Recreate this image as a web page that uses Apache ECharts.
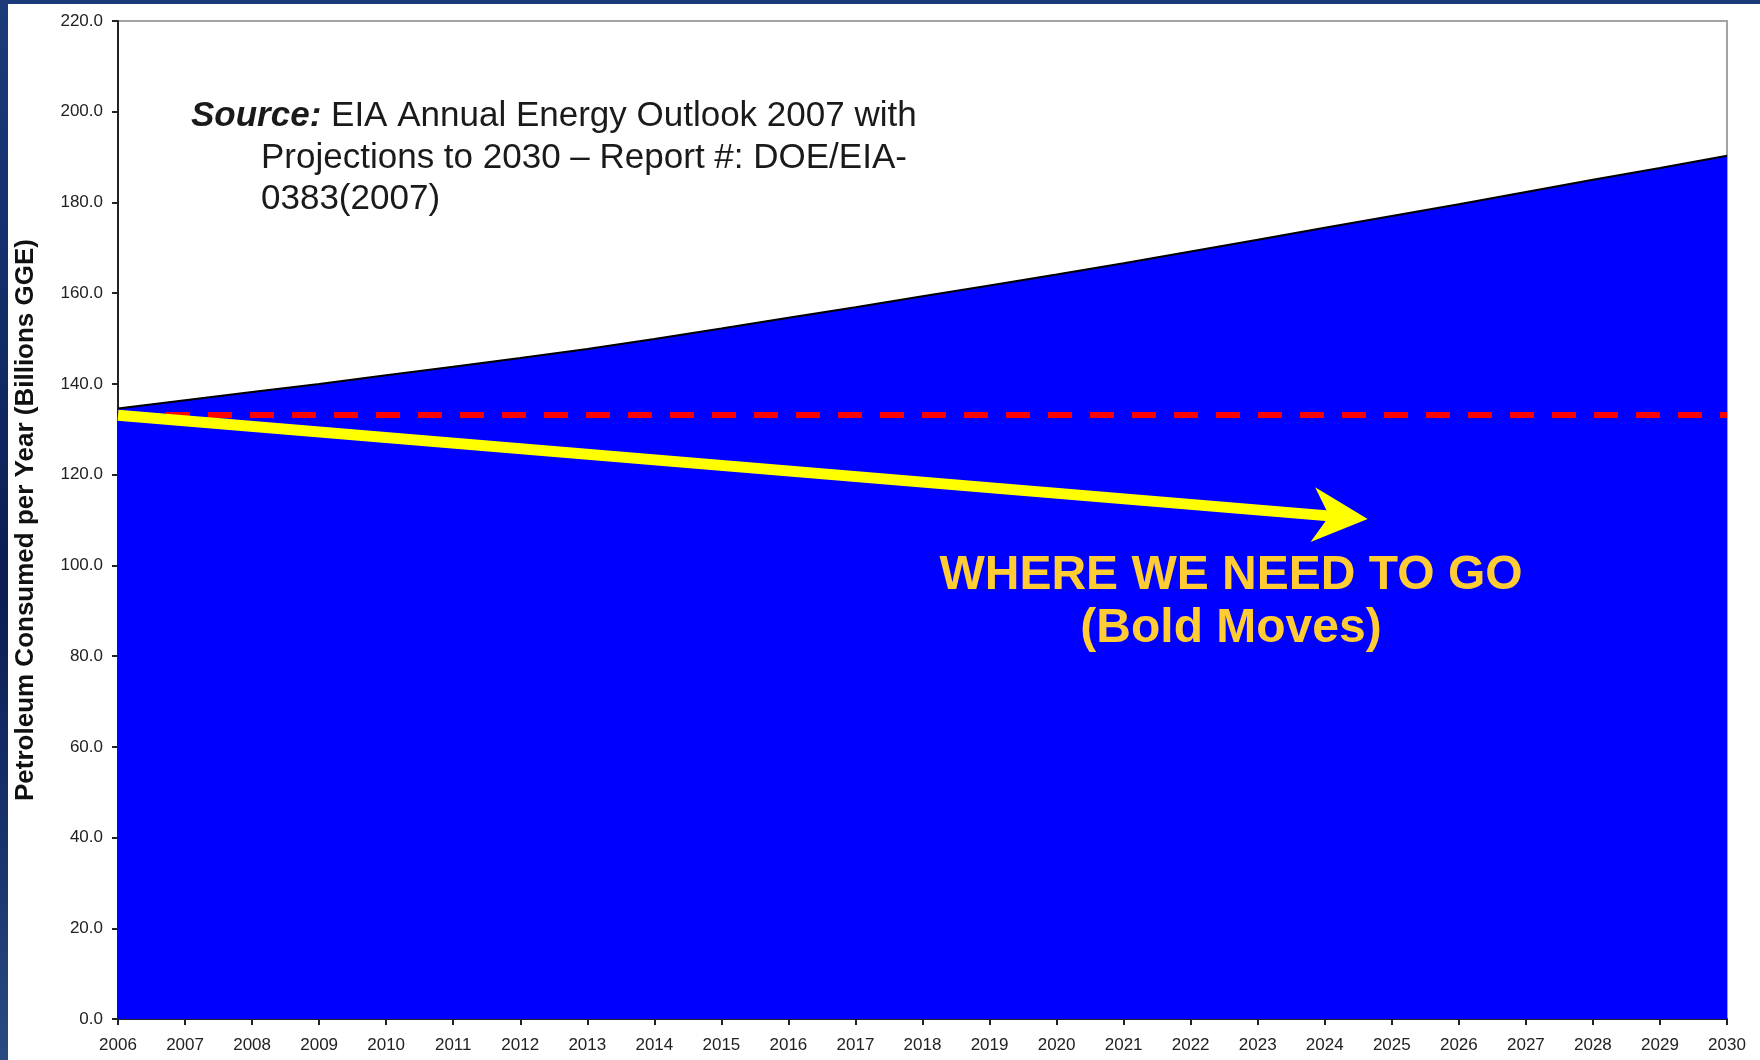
<!DOCTYPE html>
<html>
<head>
<meta charset="utf-8">
<title>Petroleum Consumed per Year</title>
<script src="https://cdn.jsdelivr.net/npm/echarts@6/dist/echarts.min.js"></script>
<style>
  html, body { margin: 0; padding: 0; width: 1760px; height: 1060px; overflow: hidden; }
  body {
    position: relative;
    background: linear-gradient(180deg, #1c3b7b 0%, #122d68 30%, #0b1d52 55%, #18336e 80%, #2a4a82 100%);
  }
  #panel { position: absolute; left: 8px; top: 4px; right: 0; bottom: 0; background: #ffffff; }
  #chart { position: absolute; left: 0; top: 0; width: 1760px; height: 1060px; }
</style>
</head>
<body>
<div id="panel"></div>
<div id="chart"></div>
<script>
// Projected petroleum consumption, billions of gallons of gasoline equivalent
const years = [2006, 2007, 2008, 2009, 2010, 2011, 2012, 2013, 2014, 2015, 2016, 2017,
               2018, 2019, 2020, 2021, 2022, 2023, 2024, 2025, 2026, 2027, 2028, 2029, 2030];
const consumption = [134.6, 136.4, 138.2, 140.0, 141.9, 143.8, 145.7, 147.7, 149.9, 152.2,
                     154.6, 156.9, 159.3, 161.7, 164.1, 166.6, 169.2, 171.8, 174.4, 177.0,
                     179.6, 182.3, 185.0, 187.6, 190.3];

// Value axis range and step
const yRange = { min: 0, max: 220, step: 20 };
const xRange = { min: 2006, max: 2030, step: 1 };

// Flat reference level (today's consumption) and the target path arrow
const flatLevel = 133.1;
const targetStart = [2006, 133.1];
const targetEnd = [2024.64, 110.2];

// Annotation texts
const sourceLines = [
  '{b|Source:} EIA Annual Energy Outlook 2007 with',
  'Projections to 2030 \u2013 Report #: DOE/EIA-',
  '0383(2007)'
];
const goalLines = ['WHERE WE NEED TO GO', '(Bold Moves)'];

const FONT = '"Liberation Sans", Arial, Helvetica, sans-serif';
const chart = echarts.init(document.getElementById('chart'), null, { renderer: 'canvas' });

const axisCommon = {
  axisLine: { show: true, lineStyle: { color: '#222222', width: 2 } },
  axisTick: { show: true, inside: false, length: 6, lineStyle: { color: '#222222', width: 2 } },
  splitLine: { show: false }
};

const option = {
  animation: false,
  backgroundColor: 'transparent',
  textStyle: { fontFamily: FONT },
  grid: {
    left: 118, right: 33, top: 21, bottom: 41,
    show: true, backgroundColor: '#ffffff', borderColor: '#a3a3a3', borderWidth: 2,
    outerBoundsMode: 'none'
  },
  xAxis: Object.assign({
    type: 'value',
    min: xRange.min, max: xRange.max, interval: xRange.step,
    axisLabel: { formatter: v => String(v), fontSize: 17, color: '#222222', margin: 18, fontFamily: FONT }
  }, axisCommon),
  yAxis: Object.assign({
    type: 'value',
    min: yRange.min, max: yRange.max, interval: yRange.step,
    name: 'Petroleum Consumed per Year (Billions GGE)',
    nameLocation: 'middle',
    nameGap: 79,
    nameTextStyle: { fontSize: 26, fontWeight: 'bold', color: '#111111', fontFamily: FONT },
    axisLabel: { formatter: v => v.toFixed(1), fontSize: 17, color: '#222222', margin: 15, fontFamily: FONT }
  }, axisCommon),
  series: [{
    type: 'line',
    data: years.map((y, i) => [y, consumption[i]]),
    symbol: 'none',
    showSymbol: false,
    lineStyle: { color: '#000000', width: 2 },
    areaStyle: { color: '#0000FF', opacity: 1 },
    emphasis: { disabled: true },
    z: 2,
    markLine: {
      silent: true,
      animation: false,
      symbol: ['none', 'none'],
      label: { show: false },
      emphasis: { disabled: true },
      data: [
        {
          yAxis: flatLevel,
          lineStyle: { color: '#FF0000', width: 6, type: [24, 18], dashOffset: -6 }
        }
      ]
    }
  }],
  graphic: [
    {
      id: 'src1', type: 'text', x: 191, y: 116, z: 20,
      style: {
        text: sourceLines[0], align: 'left', verticalAlign: 'middle',
        fontSize: 35, fontFamily: FONT, fill: '#1a1a1a',
        rich: { b: { fontSize: 35, fontWeight: 'bold', fontStyle: 'italic', fontFamily: FONT, fill: '#1a1a1a' } }
      }
    },
    {
      id: 'src2', type: 'text', x: 261, y: 158, z: 20,
      style: { text: sourceLines[1], align: 'left', verticalAlign: 'middle', fontSize: 35, fontFamily: FONT, fill: '#1a1a1a' }
    },
    {
      id: 'src3', type: 'text', x: 261, y: 199, z: 20,
      style: { text: sourceLines[2], align: 'left', verticalAlign: 'middle', fontSize: 35, fontFamily: FONT, fill: '#1a1a1a' }
    },
    {
      id: 'goal1', type: 'text', x: 1231, y: 576, z: 20,
      style: { text: goalLines[0], align: 'center', verticalAlign: 'middle', fontSize: 48, fontWeight: 'bold', fontFamily: FONT, fill: '#FFCC33' }
    },
    {
      id: 'goal2', type: 'text', x: 1231, y: 629, z: 20,
      style: { text: goalLines[1], align: 'center', verticalAlign: 'middle', fontSize: 48, fontWeight: 'bold', fontFamily: FONT, fill: '#FFCC33' }
    }
  ]
};

chart.setOption(option);

// Target-path arrow: shaft plus notched head, placed through the axis scales
function drawTargetArrow() {
  const s = chart.convertToPixel({ gridIndex: 0 }, targetStart);
  const t = chart.convertToPixel({ gridIndex: 0 }, targetEnd);
  const dx = t[0] - s[0], dy = t[1] - s[1];
  const len = Math.hypot(dx, dy);
  const ux = dx / len, uy = dy / len;
  const nx = -uy, ny = ux;
  const headLen = 55, headHalf = 27.5, notch = 0.7 * headLen;
  const shaftEnd = [t[0] - ux * headLen * 0.6, t[1] - uy * headLen * 0.6];
  const head = [
    [t[0], t[1]],
    [t[0] - ux * headLen + nx * headHalf, t[1] - uy * headLen + ny * headHalf],
    [t[0] - ux * notch, t[1] - uy * notch],
    [t[0] - ux * headLen - nx * headHalf, t[1] - uy * headLen - ny * headHalf]
  ];
  chart.setOption({
    graphic: [
      {
        id: 'arrowShaft', type: 'line', z: 10, silent: true,
        shape: { x1: s[0], y1: s[1], x2: shaftEnd[0], y2: shaftEnd[1] },
        style: { stroke: '#FFFF00', lineWidth: 11, lineCap: 'butt' }
      },
      {
        id: 'arrowHead', type: 'polygon', z: 10, silent: true,
        shape: { points: head },
        style: { fill: '#FFFF00' }
      }
    ]
  });
}
drawTargetArrow();
</script>
</body>
</html>
